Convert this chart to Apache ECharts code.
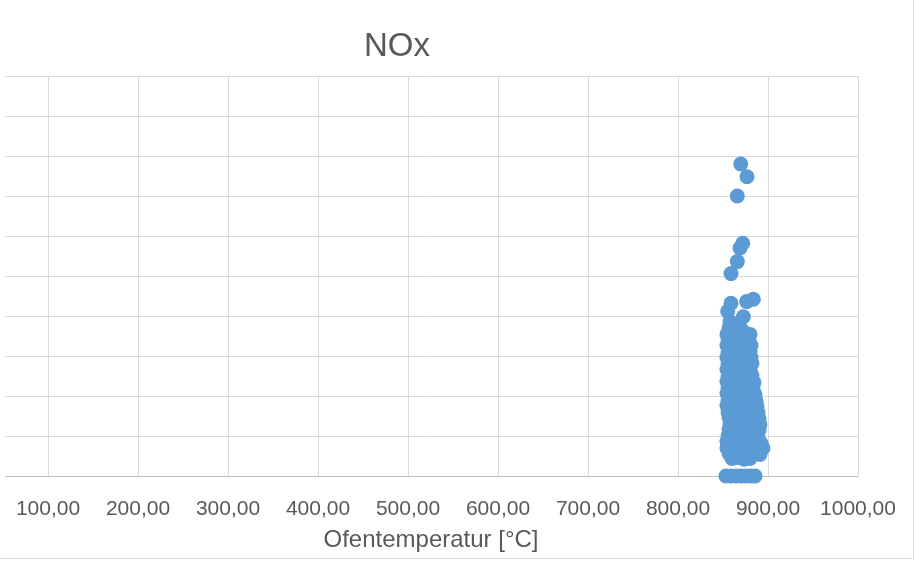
<!DOCTYPE html>
<html>
<head>
<meta charset="utf-8">
<script src="https://cdn.jsdelivr.net/npm/echarts@6/dist/echarts.min.js"></script>
<style>html,body{margin:0;padding:0;background:#fff}#c{width:916px;height:562px}</style>
</head>
<body>
<div id="c"></div>
<script>
// Chart title and axis label
const chartTitle = 'NOx';
const xAxisTitle = 'Ofentemperatur [°C]';
// x axis ticks (°C)
const xTicks = [100, 200, 300, 400, 500, 600, 700, 800, 900, 1000];

// Ofentemperatur [°C] of each measurement
const ofenTemperatur = [
  869.7, 876.7, 865.9, 871.9, 868.9, 865.9, 858.9, 883.7, 876.3, 858.9, 855.2, 872.6, 857.8,
  856.7, 864.4, 870.0,
  854.4, 861.1, 868.9, 875.6, 880.0,
  855.6, 863.3, 871.1, 878.9,
  854.4, 860.0, 866.7, 873.3, 881.1,
  855.6, 862.2, 870.0, 876.7, 880.0,
  854.4, 861.1, 867.8, 874.4, 881.1,
  855.6, 863.3, 871.1, 877.8, 882.2,
  854.4, 860.0, 866.7, 873.3, 880.0,
  855.6, 862.2, 868.9, 875.6, 882.2,
  854.4, 861.1, 867.8, 874.4, 881.1, 884.4,
  855.6, 863.3, 870.0, 876.7, 883.3,
  854.4, 860.0, 866.7, 873.3, 880.0, 885.6,
  855.6, 862.2, 868.9, 875.6, 882.2, 886.7,
  854.4, 861.1, 867.8, 874.4, 881.1, 887.8,
  855.6, 863.3, 870.0, 876.7, 883.3, 888.9,
  856.7, 862.2, 868.9, 875.6, 882.2, 890.0,
  857.8, 864.4, 871.1, 877.8, 884.4, 891.1,
  856.7, 863.3, 870.0, 876.7, 883.3, 890.0,
  855.6, 862.2, 868.9, 875.6, 882.2, 888.9,
  854.4, 861.1, 867.8, 874.4, 881.1, 887.8, 892.2,
  854.4, 862.2, 868.9, 875.6, 882.2, 888.9, 894.4,
  856.7, 863.3, 870.0, 876.7, 883.3, 891.1,
  860.0, 866.7, 873.3, 880.0,
  853.3, 858.9, 864.4, 870.0, 875.6, 881.1, 885.6
];

// NOx value of each measurement (same order)
const noxWerte = [
  390, 374, 350, 291, 285, 268, 253, 221, 218, 216, 206, 199, 193,
  185, 186, 184,
  177, 178, 176, 178, 177,
  170, 171, 169, 170,
  163, 162, 164, 161, 163,
  155, 156, 154, 155, 156,
  148, 147, 149, 146, 148,
  140, 141, 139, 140, 141,
  133, 132, 134, 131, 133,
  125, 126, 124, 125, 126,
  118, 117, 119, 116, 118, 117,
  110, 111, 109, 110, 111,
  103, 102, 104, 101, 103, 102,
  95, 96, 94, 95, 96, 94,
  88, 87, 89, 86, 88, 87,
  80, 81, 79, 80, 81, 79,
  73, 72, 74, 71, 73, 72,
  65, 66, 64, 65, 66, 64,
  58, 57, 59, 56, 58, 57,
  50, 51, 49, 50, 51, 49,
  43, 42, 44, 41, 43, 42, 41,
  35, 36, 34, 35, 36, 34, 35,
  28, 27, 29, 26, 28, 27,
  22, 23, 21, 22,
  0, 0, 0, 0, 0, 0, 0
];

const points = ofenTemperatur.map((t, i) => [t, noxWerte[i]]);

const chart = echarts.init(document.getElementById('c'), null, {renderer: 'canvas'});
chart.setOption({
  animation: false,
  backgroundColor: '#ffffff',
  grid: {left: -42, right: 58, top: 76, bottom: 86, containLabel: false, outerBoundsMode: 'none'},
  xAxis: {
    type: 'value',
    min: 0, max: 1000, interval: 100,
    axisLine: {show: true, lineStyle: {color: '#bfbfbf', width: 1}},
    axisTick: {show: false},
    splitLine: {show: true, lineStyle: {color: '#d9d9d9', width: 1}},
    axisLabel: {
      show: true, showMinLabel: false, margin: 23,
      color: '#595959', fontSize: 21, fontFamily: 'Liberation Sans',
      formatter: v => xTicks.indexOf(v) >= 0 ? v.toFixed(2).replace('.', ',') : ''
    }
  },
  yAxis: {
    type: 'value',
    min: 0, max: 500, interval: 50,
    axisLine: {show: false},
    axisTick: {show: false},
    axisLabel: {show: false},
    splitLine: {show: true, lineStyle: {color: '#d9d9d9', width: 1}}
  },
  series: [{
    type: 'scatter',
    data: points,
    symbol: 'circle',
    symbolSize: 15,
    itemStyle: {color: '#5b9bd5', opacity: 1},
    z: 3
  }],
  graphic: [
    {type: 'rect', shape: {x: 0, y: 60, width: 5, height: 425}, style: {fill: '#ffffff'}, z: 100, silent: true},
    {type: 'line', shape: {x1: 913.5, y1: 0, x2: 913.5, y2: 558.5}, style: {stroke: '#d9d9d9', lineWidth: 1}, z: 100, silent: true},
    {type: 'line', shape: {x1: 0, y1: 558.5, x2: 913.5, y2: 558.5}, style: {stroke: '#d9d9d9', lineWidth: 1}, z: 100, silent: true},
    {type: 'text', x: 397, y: 47, style: {text: chartTitle, fill: '#595959', fontSize: 33, fontFamily: 'Liberation Sans', align: 'center', verticalAlign: 'middle'}, z: 100},
    {type: 'text', x: 431, y: 540, style: {text: xAxisTitle, fill: '#595959', fontSize: 24, fontFamily: 'Liberation Sans', align: 'center', verticalAlign: 'middle'}, z: 100}
  ]
});
</script>
</body>
</html>
